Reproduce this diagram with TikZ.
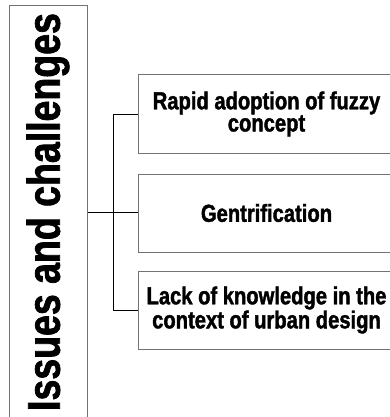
\documentclass[tikz,border=0pt]{standalone}
\usepackage{fontspec}
\setmainfont{Liberation Sans}
\newfontfamily\narrowbold{Liberation Sans Bold}[FakeStretch=0.82, FakeBold=1.6]
\begin{document}
\begin{tikzpicture}[x=1pt, y=1pt,
        item/.style={draw=black!55, line width=1pt, minimum width=257pt, minimum height=78pt, inner sep=0pt, align=center, font=\narrowbold\fontsize{24.6}{21}\selectfont}]
        \useasboundingbox (0,0) rectangle (390,-417);
        \clip (0,0) rectangle (390,-417);
        \node[draw=black!55, line width=1pt, rotate=90, minimum width=412pt, minimum height=78pt, inner sep=0pt, font=\narrowbold\fontsize{45.7}{50}\selectfont] (issues) at (48,-212) {Issues and challenges};
        \node[item] (adopt) at (266.5,-114) {Rapid adoption of fuzzy\\concept};
        \node[item] (gentr) at (266.5,-213) {Gentrification};
        \node[item] (lack) at (266.5,-310) {Lack of knowledge in the\\context of urban design};
        \coordinate (fork) at (113,-212);
        \draw[line width=0.8pt] (issues.south) -- (issues.south -| gentr.west);
        \draw[line width=0.8pt] (adopt.west) -- (adopt.west -| fork) -- (lack.west -| fork) -- (lack.west);
    \end{tikzpicture}
\end{document}
